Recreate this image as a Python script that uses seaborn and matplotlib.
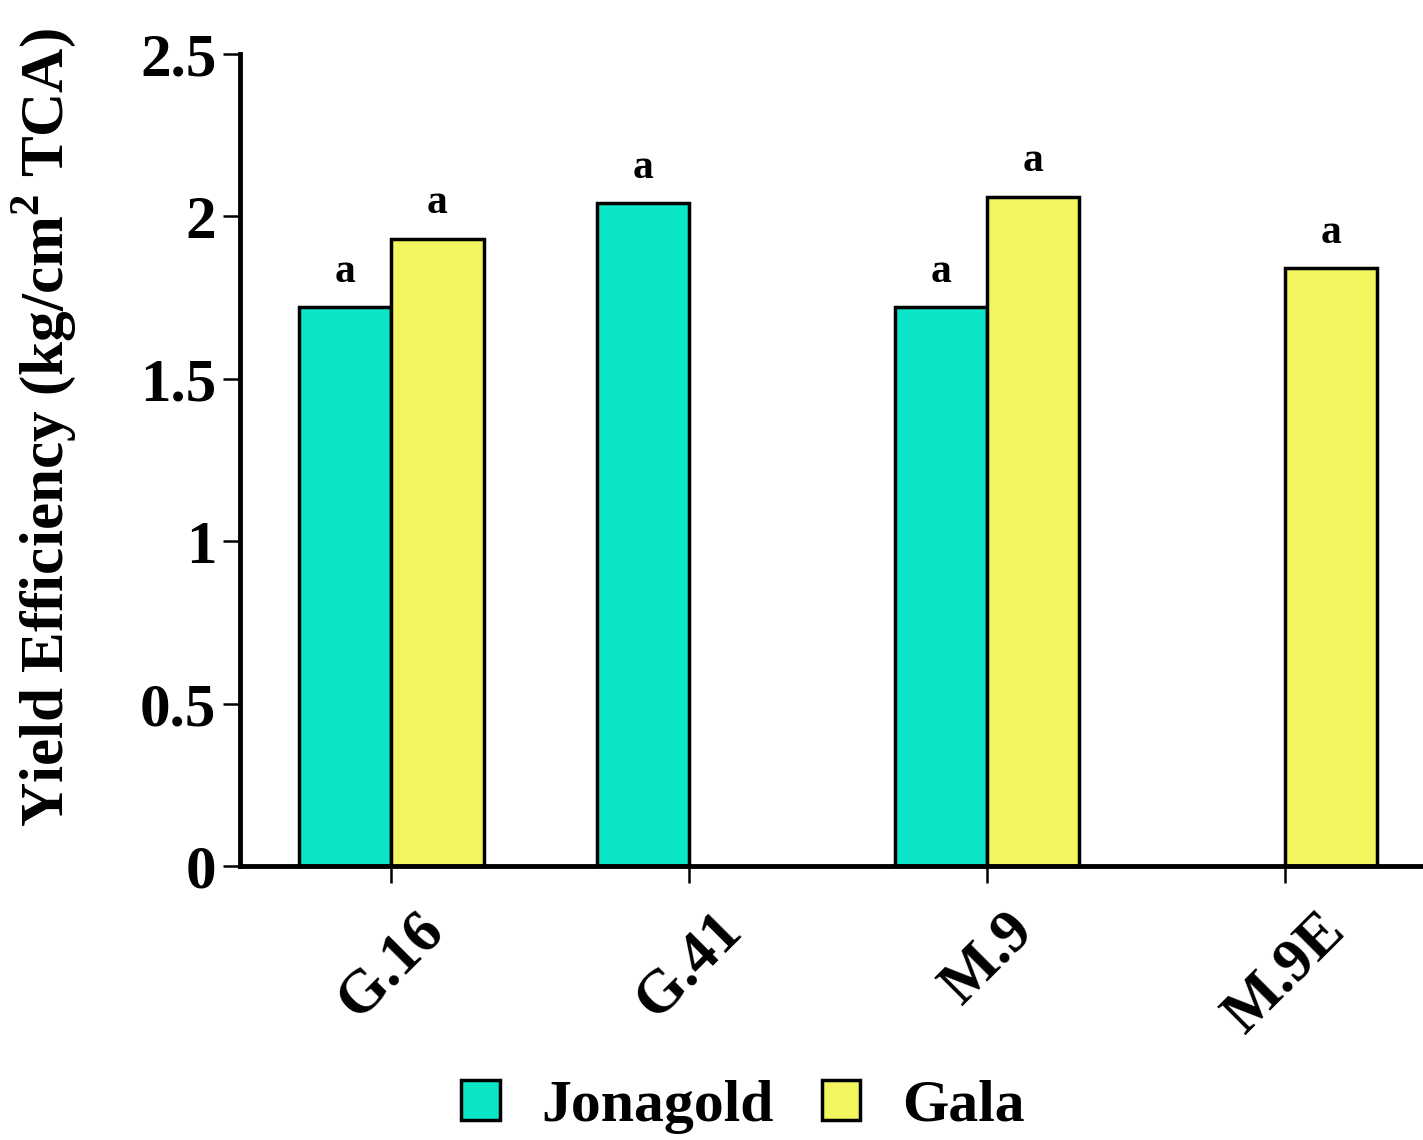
import pandas as pd
import seaborn as sns
import matplotlib.pyplot as plt

order = ['G.16', 'G.41', 'M.9', 'M.9E']
cultivars = ['Jonagold', 'Gala']
jonagold_stock = ['G.16', 'G.41', 'M.9']
jonagold_vals = [1.72, 2.04, 1.72]
gala_stock = ['G.16', 'M.9', 'M.9E']
gala_vals = [1.93, 2.06, 1.84]
letters = ['a', 'a', 'a']
colors = ['#0AE5C8', '#F3F55E']

df = pd.DataFrame({
    'rootstock': jonagold_stock + gala_stock,
    'cultivar': ['Jonagold'] * len(jonagold_stock) + ['Gala'] * len(gala_stock),
    'ye': jonagold_vals + gala_vals,
})

sns.set_style('ticks')
plt.rcParams['font.family'] = ['Liberation Serif', 'DejaVu Serif']
plt.rcParams['font.weight'] = 'bold'
plt.rcParams['mathtext.fontset'] = 'custom'
plt.rcParams['mathtext.rm'] = 'Liberation Serif:bold'
plt.rcParams['mathtext.bf'] = 'Liberation Serif:bold'
for k in ['text.color', 'axes.labelcolor', 'xtick.color', 'ytick.color']:
    plt.rcParams[k] = 'black'

fig = plt.figure(figsize=(14.23, 11.4), dpi=100)
ax = fig.add_axes([0.1687, 0.2404, 0.8313, 0.7122])

sns.barplot(data=df, x='rootstock', y='ye', hue='cultivar', order=order,
            hue_order=cultivars, palette=colors, width=0.62, saturation=1,
            edgecolor='black', linewidth=2.5, ax=ax)

for c in ax.containers:
    ax.bar_label(c, labels=letters, padding=12, fontsize=30, fontweight='bold')

ax.set_ylim(0, 2.5)
ax.set_xlim(-0.507, 3.463)
ax.set_yticks([0, 0.5, 1, 1.5, 2, 2.5])
ax.set_yticklabels(['0', '0.5', '1', '1.5', '2', '2.5'], fontsize=44, fontweight='bold')
ax.set_xticks(range(len(order)))
ax.set_xticklabels(order, fontsize=44, fontweight='bold', rotation=45, ha='center')
ax.tick_params(axis='both', length=12, width=1.8, pad=5, color='black')
ax.tick_params(axis='x', pad=14)
ax.set_xlabel('')
ax.set_ylabel(r'Yield Efficiency (kg/cm$^{\mathbf{2}}$ TCA)', fontsize=44, fontweight='bold')
ax.yaxis.set_label_coords(-0.137, 0.54)

sns.despine(ax=ax)
for s in ['left', 'bottom']:
    ax.spines[s].set_linewidth(3.5)
    ax.spines[s].set_color('black')

sns.move_legend(ax, 'center', bbox_to_anchor=(0.522, 0.029),
                bbox_transform=fig.transFigure, ncol=2, frameon=False,
                title=None, fontsize=43, handlelength=0.65, handleheight=0.65,
                handletextpad=0.7, columnspacing=0.8)
for h in ax.get_legend().legend_handles:
    h.set_edgecolor('black')
    h.set_linewidth(2.5)

fig.savefig('out.png', dpi=100)
